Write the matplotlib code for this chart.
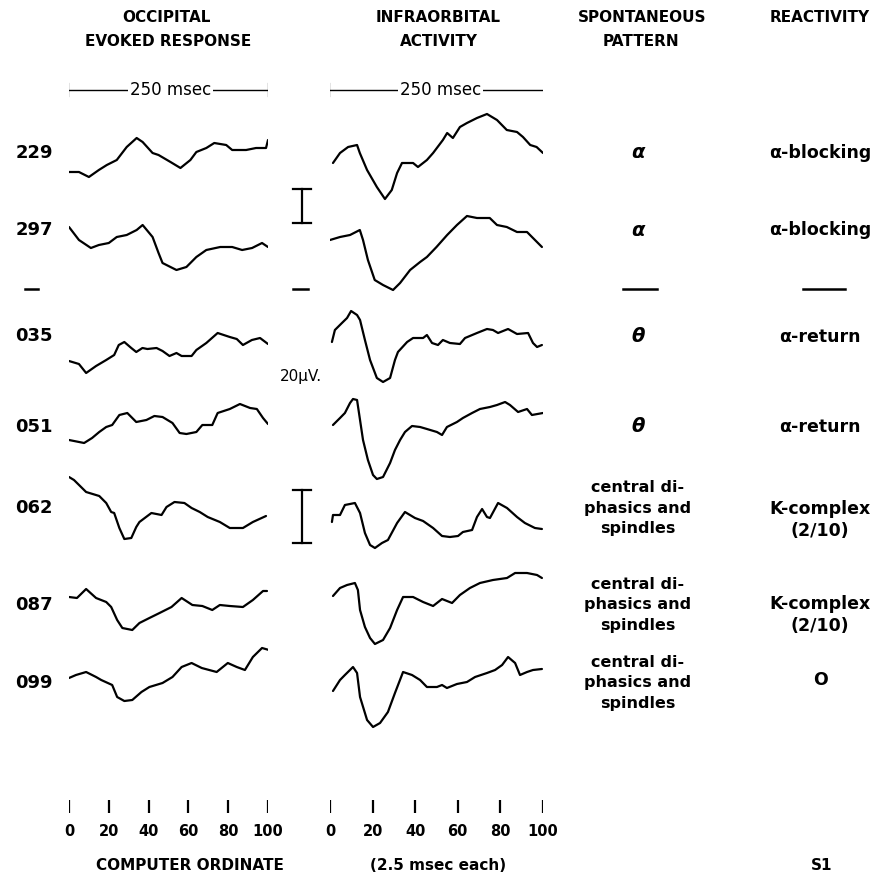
import numpy as np
import matplotlib
matplotlib.use("Agg")
import matplotlib.pyplot as plt

plt.rcParams['font.family'] = ['DejaVu Sans']

# --- data ---
# rows (subject codes) and their classification
row_codes = ["229", "297", "035", "051", "062", "087", "099"]
spont_pattern = ["α", "α", "θ", "θ",
                 "central di-\nphasics and\nspindles",
                 "central di-\nphasics and\nspindles",
                 "central di-\nphasics and\nspindles"]
reactivity = ["α-blocking", "α-blocking", "α-return", "α-return",
              "K-complex\n(2/10)", "K-complex\n(2/10)", "O"]

# occipital evoked response: computer ordinate and deflection (upward +)
occ_x = [
    [0, 5, 10, 15, 19, 24, 29, 34, 37, 42, 45, 51, 56, 61, 64, 69, 73, 79, 82, 89, 94, 99, 100],
    [0, 5, 11, 15, 20, 24, 29, 34, 37, 42, 45, 47, 54, 59, 64, 69, 76, 82, 87, 92, 97, 100],
    [0, 5, 8.6, 13.6, 18.7, 22.7, 25, 27.8, 31.3, 33.8, 36.9, 39.4, 44, 47, 50.5, 54, 56.6,
     61.6, 64, 69, 74.7, 80.8, 84.3, 87.4, 91.9, 96, 100],
    [0, 7.6, 11.6, 15.2, 18.7, 21.7, 25.3, 29.3, 33.8, 38.9, 42.9, 47, 52, 55.6, 59, 64, 67,
     72, 74.7, 80.8, 85.9, 91, 94.4, 97.5, 100],
    [0, 2.5, 8.6, 15.2, 18.7, 21.2, 22.7, 25.3, 27.8, 31.3, 33.8, 35.4, 41.4, 46.5, 49, 53, 58,
     61.6, 65.7, 69.7, 75.8, 80.8, 87.4, 92.4, 99],
    [0, 4, 8.6, 13.6, 18.7, 21.2, 24.2, 26.8, 31.8, 35.4, 40.4, 45.5, 51.5, 56.6, 62, 67, 72,
     75.8, 80.8, 87.4, 92.4, 97.5, 99.5],
    [0, 3.5, 8.6, 13.6, 16.2, 21.7, 24.2, 27.8, 31.8, 36.4, 40.4, 47, 52, 56.6, 61.6, 66.7,
     74.2, 79.8, 84.3, 88.4, 92.4, 97, 100.5],
]
occ_y = [
    [-17, -17, -22, -15, -10, -5, 8, 17, 13, 2, 0, -7, -13, -5, 3, 7, 12, 10, 5, 5, 7, 7, 15],
    [1, -12, -20, -17, -15, -9, -7, -2, 3, -9, -25, -35, -42, -39, -29, -22, -19, -19, -22, -20, -15, -19],
    [-21, -24, -33, -26, -20, -15, -5, -2, -8, -12, -8, -9, -8, -11, -16, -13, -16, -16, -10,
     -3, 7, 3, 1, -5, 0, 2, -4],
    [-12, -15, -10, -4, 1, 3, 13, 15, 6, 8, 12, 11, 5, -5, -6, -4, 3, 3, 15, 19, 24, 20, 19, 10, 4],
    [34, 31, 19, 15, 8, -1, -2, -17, -28, -27, -16, -11, -2, -4, 4, 9, 8, 3, -1, -6, -11, -17, -17, -11, -5],
    [3, 2, 11, 2, -2, -7, -20, -28, -30, -23, -18, -13, -7, 2, -5, -6, -10, -5, -6, -7, 0, 9, 9],
    [4, 7, 10, 5, 2, -3, -15, -19, -18, -10, -5, -1, 5, 15, 19, 14, 10, 19, 15, 12, 25, 34, 32],
]

# infraorbital activity
inf_x = [
    [1.4, 4.7, 8.5, 12.7, 14, 17.4, 22, 25.8, 29, 31.5, 33.8, 39, 41.3, 45.5, 48.4, 53, 55, 57.7,
     61, 64.3, 69, 73.7, 78.4, 83, 87.8, 90.6, 94, 97, 100],
    [0, 4.7, 9.4, 14, 15.5, 17.8, 21, 24.9, 29.6, 32.9, 37.6, 42.3, 45.5, 50, 55, 59.6, 64.3, 69,
     75, 78.4, 83, 87.8, 92.5, 95.3, 99.5],
    [0.9, 2.3, 5.6, 8, 9.9, 12.7, 14.1, 16.4, 18.8, 22, 24.9, 28.2, 30.5, 31.9, 36.2, 39, 43.7,
     45.5, 47.9, 50.7, 53, 56.3, 61, 63.4, 69, 73.7, 76.5, 78.9, 83.6, 87.8, 93, 95.3, 97.2, 99.5],
    [1.4, 4.7, 7, 9.4, 10.8, 12.7, 14.1, 15.5, 17.8, 20.2, 22, 24.9, 28.2, 30.5, 32.9, 35.2, 38.5,
     42.3, 45.5, 50.2, 52.6, 54.9, 59.6, 62.4, 66.7, 70.4, 75.1, 78.4, 82.2, 84.5, 88.3, 92.5, 94.8, 100],
    [0.9, 1.4, 4.7, 7, 11.7, 14.1, 16.4, 18.8, 21.1, 24.4, 27.2, 31.5, 35.2, 39.9, 43.7, 48.4,
     52.6, 56.3, 60.1, 62.4, 66.7, 69, 71.4, 73.7, 75.1, 78.9, 83.1, 87.8, 91.5, 96.2, 99.5],
    [1.4, 4.7, 8, 11.7, 13.1, 14.1, 16.4, 18.8, 21.1, 24.9, 28.2, 31.5, 34.3, 39, 43.7, 48.4,
     52.6, 57.3, 61, 65.7, 70.4, 76.5, 83.1, 86.9, 92.5, 97.2, 99.5],
    [1.4, 4.7, 7, 10.8, 12.7, 14.1, 17.4, 20.2, 23.5, 27.2, 30.5, 34.3, 38.5, 42.3, 45.5, 50.2,
     52.6, 54.9, 59.6, 64.3, 68.1, 73.7, 77.5, 80.8, 83.6, 86.9, 89.2, 92.5, 95.3, 99.5],
]
inf_y = [
    [-8, 2, 8, 10, 2, -15, -32, -44, -35, -18, -8, -8, -12, -5, 2, 15, 22, 17, 28, 32, 37, 41,
     35, 25, 23, 18, 10, 8, 2],
    [-12, -9, -7, -2, -12, -32, -52, -57, -62, -55, -42, -34, -29, -19, -7, 3, 12, 10, 10, 3, 1,
     -4, -4, -10, -19],
    [-2, 10, 17, 22, 29, 25, 20, 0, -20, -38, -42, -38, -20, -12, -2, 2, 2, 5, -3, -5, 0, -3, -4,
     2, 7, 11, 10, 7, 11, 6, 7, -3, -7, -5],
    [3, 10, 15, 25, 29, 28, 8, -12, -32, -47, -51, -49, -35, -22, -12, -4, 2, 1, -1, -4, -7, 1,
     6, 10, 15, 19, 21, 23, 26, 23, 16, 19, 13, 15],
    [-11, -4, -4, 6, 8, -2, -22, -34, -37, -32, -29, -12, -1, -7, -10, -17, -25, -26, -25, -21,
     -19, -6, 2, -6, -7, 8, 3, -6, -12, -17, -18],
    [4, 12, 15, 17, 10, -10, -27, -38, -44, -40, -28, -10, 3, 3, -2, -6, 1, -3, 5, 12, 17, 20,
     22, 27, 27, 25, 22],
    [-9, 2, 7, 15, 9, -15, -38, -45, -41, -30, -11, 10, 7, 2, -5, -5, -3, -6, -2, 0, 5, 9, 12,
     17, 25, 19, 7, 10, 12, 13],
]

ordinate_ticks = [0, 20, 40, 60, 80, 100]

# --- layout (pixel rows of the 888x877 page) ---
W, H = 888, 877
row_base = [155, 228, 340, 428, 511, 600, 682]
label_y = [153, 230, 336, 427, 508, 605, 683]

fig = plt.figure(figsize=(W / 100, H / 100), dpi=100)
ax = fig.add_axes([0, 0, 1, 1])
ax.set_xlim(0, W); ax.set_ylim(H, 0); ax.axis('off')

axL = fig.add_axes([69 / W, 0, 199 / W, 1])
axR = fig.add_axes([330 / W, 0, 213 / W, 1])
for a in (axL, axR):
    a.set_xlim(0, 100); a.set_ylim(H, 0); a.axis('off')
    a.patch.set_alpha(0)

kw = dict(color='black', lw=1.6, solid_joinstyle='round', solid_capstyle='round')
for i, b in enumerate(row_base):
    axL.plot(occ_x[i], b - np.array(occ_y[i]), **kw)
    axR.plot(inf_x[i], b - np.array(inf_y[i]), **kw)

bold = dict(fontweight='bold', color='black', ha='center', va='center')

# headers
ax.text(166, 17, "OCCIPITAL", fontsize=11, **bold)
ax.text(168, 42, "EVOKED RESPONSE", fontsize=11, **bold)
ax.text(438, 17, "INFRAORBITAL", fontsize=11, **bold)
ax.text(439, 42, "ACTIVITY", fontsize=11, **bold)
ax.text(642, 17, "SPONTANEOUS", fontsize=11, **bold)
ax.text(641, 42, "PATTERN", fontsize=11, **bold)
ax.text(820, 17, "REACTIVITY", fontsize=11, **bold)

# 250 msec time bars
for a, x1, xt in ((axL, 100.5, 51), (axR, 102, 52)):
    a.plot([-0.5, x1], [90, 90], color='black', lw=1.0)
    a.plot([-0.5, -0.5], [84, 96], color='black', lw=1.6)
    a.plot([x1, x1], [84, 96], color='black', lw=1.6)
    a.text(xt, 90, "250 msec", fontsize=12, ha='center', va='center',
           bbox=dict(facecolor='white', edgecolor='none', pad=1.5))

# row labels and classification columns
for i, code in enumerate(row_codes):
    ax.text(53, label_y[i], code, fontsize=13, fontweight='bold', ha='right', va='center')
    sty = 'italic' if spont_pattern[i] in ("α", "θ") else 'normal'
    fs = 14 if sty == 'italic' else 11.5
    ax.text(638, label_y[i], spont_pattern[i], fontsize=fs, fontstyle=sty,
            linespacing=1.45, **bold)
ry = [153, 230, 337, 427, 520, 615, 680]
for i, r in enumerate(reactivity):
    ax.text(820, ry[i], r, fontsize=12.5, linespacing=1.3, **bold)

# separator dashes
for x0, x1 in ((25, 38), (293, 308), (623, 657), (803, 845)):
    ax.plot([x0, x1], [289, 289], color='black', lw=1.8)

# 20 uV calibration bars
for y0, y1 in ((189, 223), (490, 543)):
    ax.plot([302, 302], [y0, y1], color='black', lw=1.6)
    ax.plot([293, 311], [y0, y0], color='black', lw=1.6)
    ax.plot([293, 311], [y1, y1], color='black', lw=1.6)
ax.text(301, 377, "20μV.", fontsize=11, ha='center', va='center')

# ordinate ticks
for a in (axL, axR):
    a.vlines(ordinate_ticks, 800, 813, color='black', lw=1.6)
    for t in ordinate_ticks:
        a.text(t, 832, str(t), fontsize=10.5, **bold)

ax.text(190, 866, "COMPUTER ORDINATE", fontsize=11, **bold)
ax.text(438, 866, "(2.5 msec each)", fontsize=11, **bold)
ax.text(822, 866, "S1", fontsize=11, **bold)

fig.savefig("out.png", dpi=100, facecolor='white')
